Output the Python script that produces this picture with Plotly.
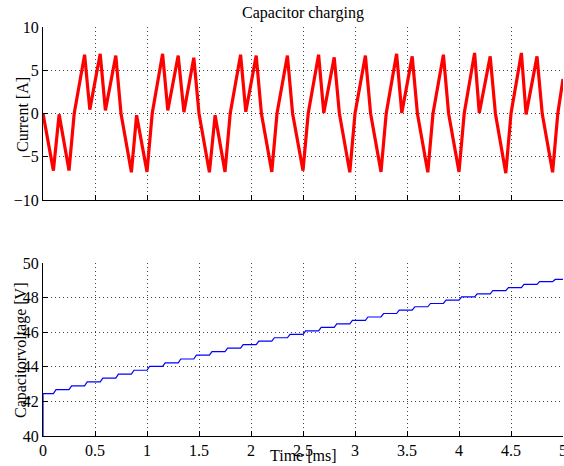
import plotly.graph_objects as go

# ---- data ----
t_current = [0, 0.1, 0.155, 0.25, 0.3, 0.4, 0.45, 0.55, 0.6, 0.7, 0.75, 0.85, 0.9, 1.0, 1.05,
             1.15, 1.2, 1.3, 1.355, 1.45, 1.5, 1.6, 1.655, 1.75, 1.8, 1.9, 1.95, 2.05, 2.1,
             2.2, 2.25, 2.35, 2.4, 2.5, 2.55, 2.65, 2.7, 2.8, 2.85, 2.95, 3.0, 3.1, 3.15,
             3.25, 3.3, 3.4, 3.45, 3.55, 3.6, 3.7, 3.75, 3.85, 3.9, 4.0, 4.05, 4.15, 4.195,
             4.3, 4.35, 4.45, 4.5, 4.6, 4.645, 4.75, 4.8, 4.9, 4.95, 5.0]
i_current = [0, -6.6, -0.1, -6.6, 0, 6.8, 0.45, 6.9, 0.35, 6.7, 0, -6.8, -0.2, -6.75, 0,
             6.9, 0.35, 6.7, 0.15, 6.45, 0, -6.8, -0.2, -6.75, 0, 6.8, 0.2, 6.7, 0,
             -6.75, 0, 6.7, 0, -6.6, 0, 6.8, 0.05, 6.5, 0, -6.8, 0, 6.7, 0,
             -6.75, 0, 6.9, 0.05, 6.6, 0, -6.8, 0, 6.8, 0, -6.75, 0, 7.0, 0.05,
             6.6, 0, -6.9, 0, 7.0, -0.1, 6.6, 0, -6.8, 0, 4.0]

v_initial = 40.0
step_times = [0.1, 0.25, 0.4, 0.55, 0.7, 0.85, 1.0, 1.15, 1.3, 1.45, 1.6, 1.75, 1.9, 2.05,
              2.2, 2.35, 2.5, 2.65, 2.8, 2.95, 3.1, 3.25, 3.4, 3.55, 3.7, 3.85, 4.0, 4.15,
              4.3, 4.45, 4.6, 4.75, 4.9]
v_levels = [42.45, 42.68, 42.9, 43.13, 43.35, 43.58, 43.8, 44.02, 44.23, 44.45, 44.67, 44.88,
            45.08, 45.28, 45.48, 45.68, 45.88, 46.08, 46.28, 46.48, 46.68, 46.88, 47.08,
            47.28, 47.47, 47.66, 47.85, 48.04, 48.22, 48.4, 48.58, 48.76, 48.92, 49.05]
step_ramp = 0.025
t_end = 5.0

x_ticks = [0, 0.5, 1, 1.5, 2, 2.5, 3, 3.5, 4, 4.5, 5]
y1_ticks = [-10, -5, 0, 5, 10]
y2_ticks = [40, 42, 44, 46, 48, 50]

# ---- build voltage trace from levels ----
t_volt = [0.0, 0.0]
v_volt = [v_initial, v_levels[0]]
for k, ts in enumerate(step_times):
    t_volt += [ts, ts + step_ramp]
    v_volt += [v_levels[k], v_levels[k + 1]]
t_volt.append(t_end)
v_volt.append(v_levels[-1])

FONT = "Liberation Serif"
fig = go.Figure()
fig.add_trace(go.Scatter(x=t_current, y=i_current, mode="lines",
                         line=dict(color="#ff0000", width=3.2), xaxis="x", yaxis="y",
                         showlegend=False, hoverinfo="skip"))
fig.add_trace(go.Scatter(x=t_volt, y=v_volt, mode="lines",
                         line=dict(color="#0000ff", width=1.2), xaxis="x2", yaxis="y2",
                         showlegend=False, hoverinfo="skip"))

W, H = 564, 466
ml, mr, mt, mb = 43, 1, 27, 30
ph = H - mt - mb
top_lo = (436 - 200) / ph
bot_hi = (436 - 263) / ph

grid = dict(showgrid=True, gridcolor="#444444", griddash="1px,3px", gridwidth=1,
            zeroline=False, showline=True, linecolor="black", linewidth=1,
            ticks="inside", ticklen=5, tickcolor="black", mirror=False,
            ticklabeloverflow="allow",
            tickfont=dict(family=FONT, size=16, color="black"), automargin=False)

fig.update_layout(
    width=W, height=H,
    margin=dict(l=ml, r=mr, t=mt, b=mb),
    paper_bgcolor="white", plot_bgcolor="white",
    font=dict(family=FONT, size=16, color="black"),
    xaxis=dict(domain=[0, 1], anchor="y", range=[0, 5], tickvals=x_ticks,
               showticklabels=False, **grid),
    yaxis=dict(domain=[top_lo, 1], anchor="x", range=[-10, 10], tickvals=y1_ticks, **grid),
    xaxis2=dict(domain=[0, 1], anchor="y2", range=[0, 5], tickvals=x_ticks, **grid),
    yaxis2=dict(domain=[0, bot_hi], anchor="x2", range=[40, 50], tickvals=y2_ticks, **grid),
    title=dict(text="Capacitor charging", x=0.5, xref="paper", xanchor="center",
               y=1 - 12 / H, yref="container", yanchor="middle",
               font=dict(family=FONT, size=16, color="black")),
)

pw = W - ml - mr
def px_x(p):
    return (p - ml) / pw
def px_y(p):
    return (H - mb - p) / ph

fig.add_annotation(text="Current [A]", textangle=-90, xref="paper", yref="paper",
                   x=px_x(22), y=px_y(115), xanchor="center", yanchor="middle",
                   showarrow=False, font=dict(family=FONT, size=16, color="black"))
fig.add_annotation(text="Capacitorvoltage [V]", textangle=-90, xref="paper", yref="paper",
                   x=px_x(21), y=px_y(350), xanchor="center", yanchor="middle",
                   showarrow=False, font=dict(family=FONT, size=16, color="black"))
fig.add_annotation(text="Time [ms]", xref="paper", yref="paper",
                   x=px_x(303), y=px_y(455), xanchor="center", yanchor="middle",
                   showarrow=False, font=dict(family=FONT, size=16, color="black"))

fig.write_html("out.html")
